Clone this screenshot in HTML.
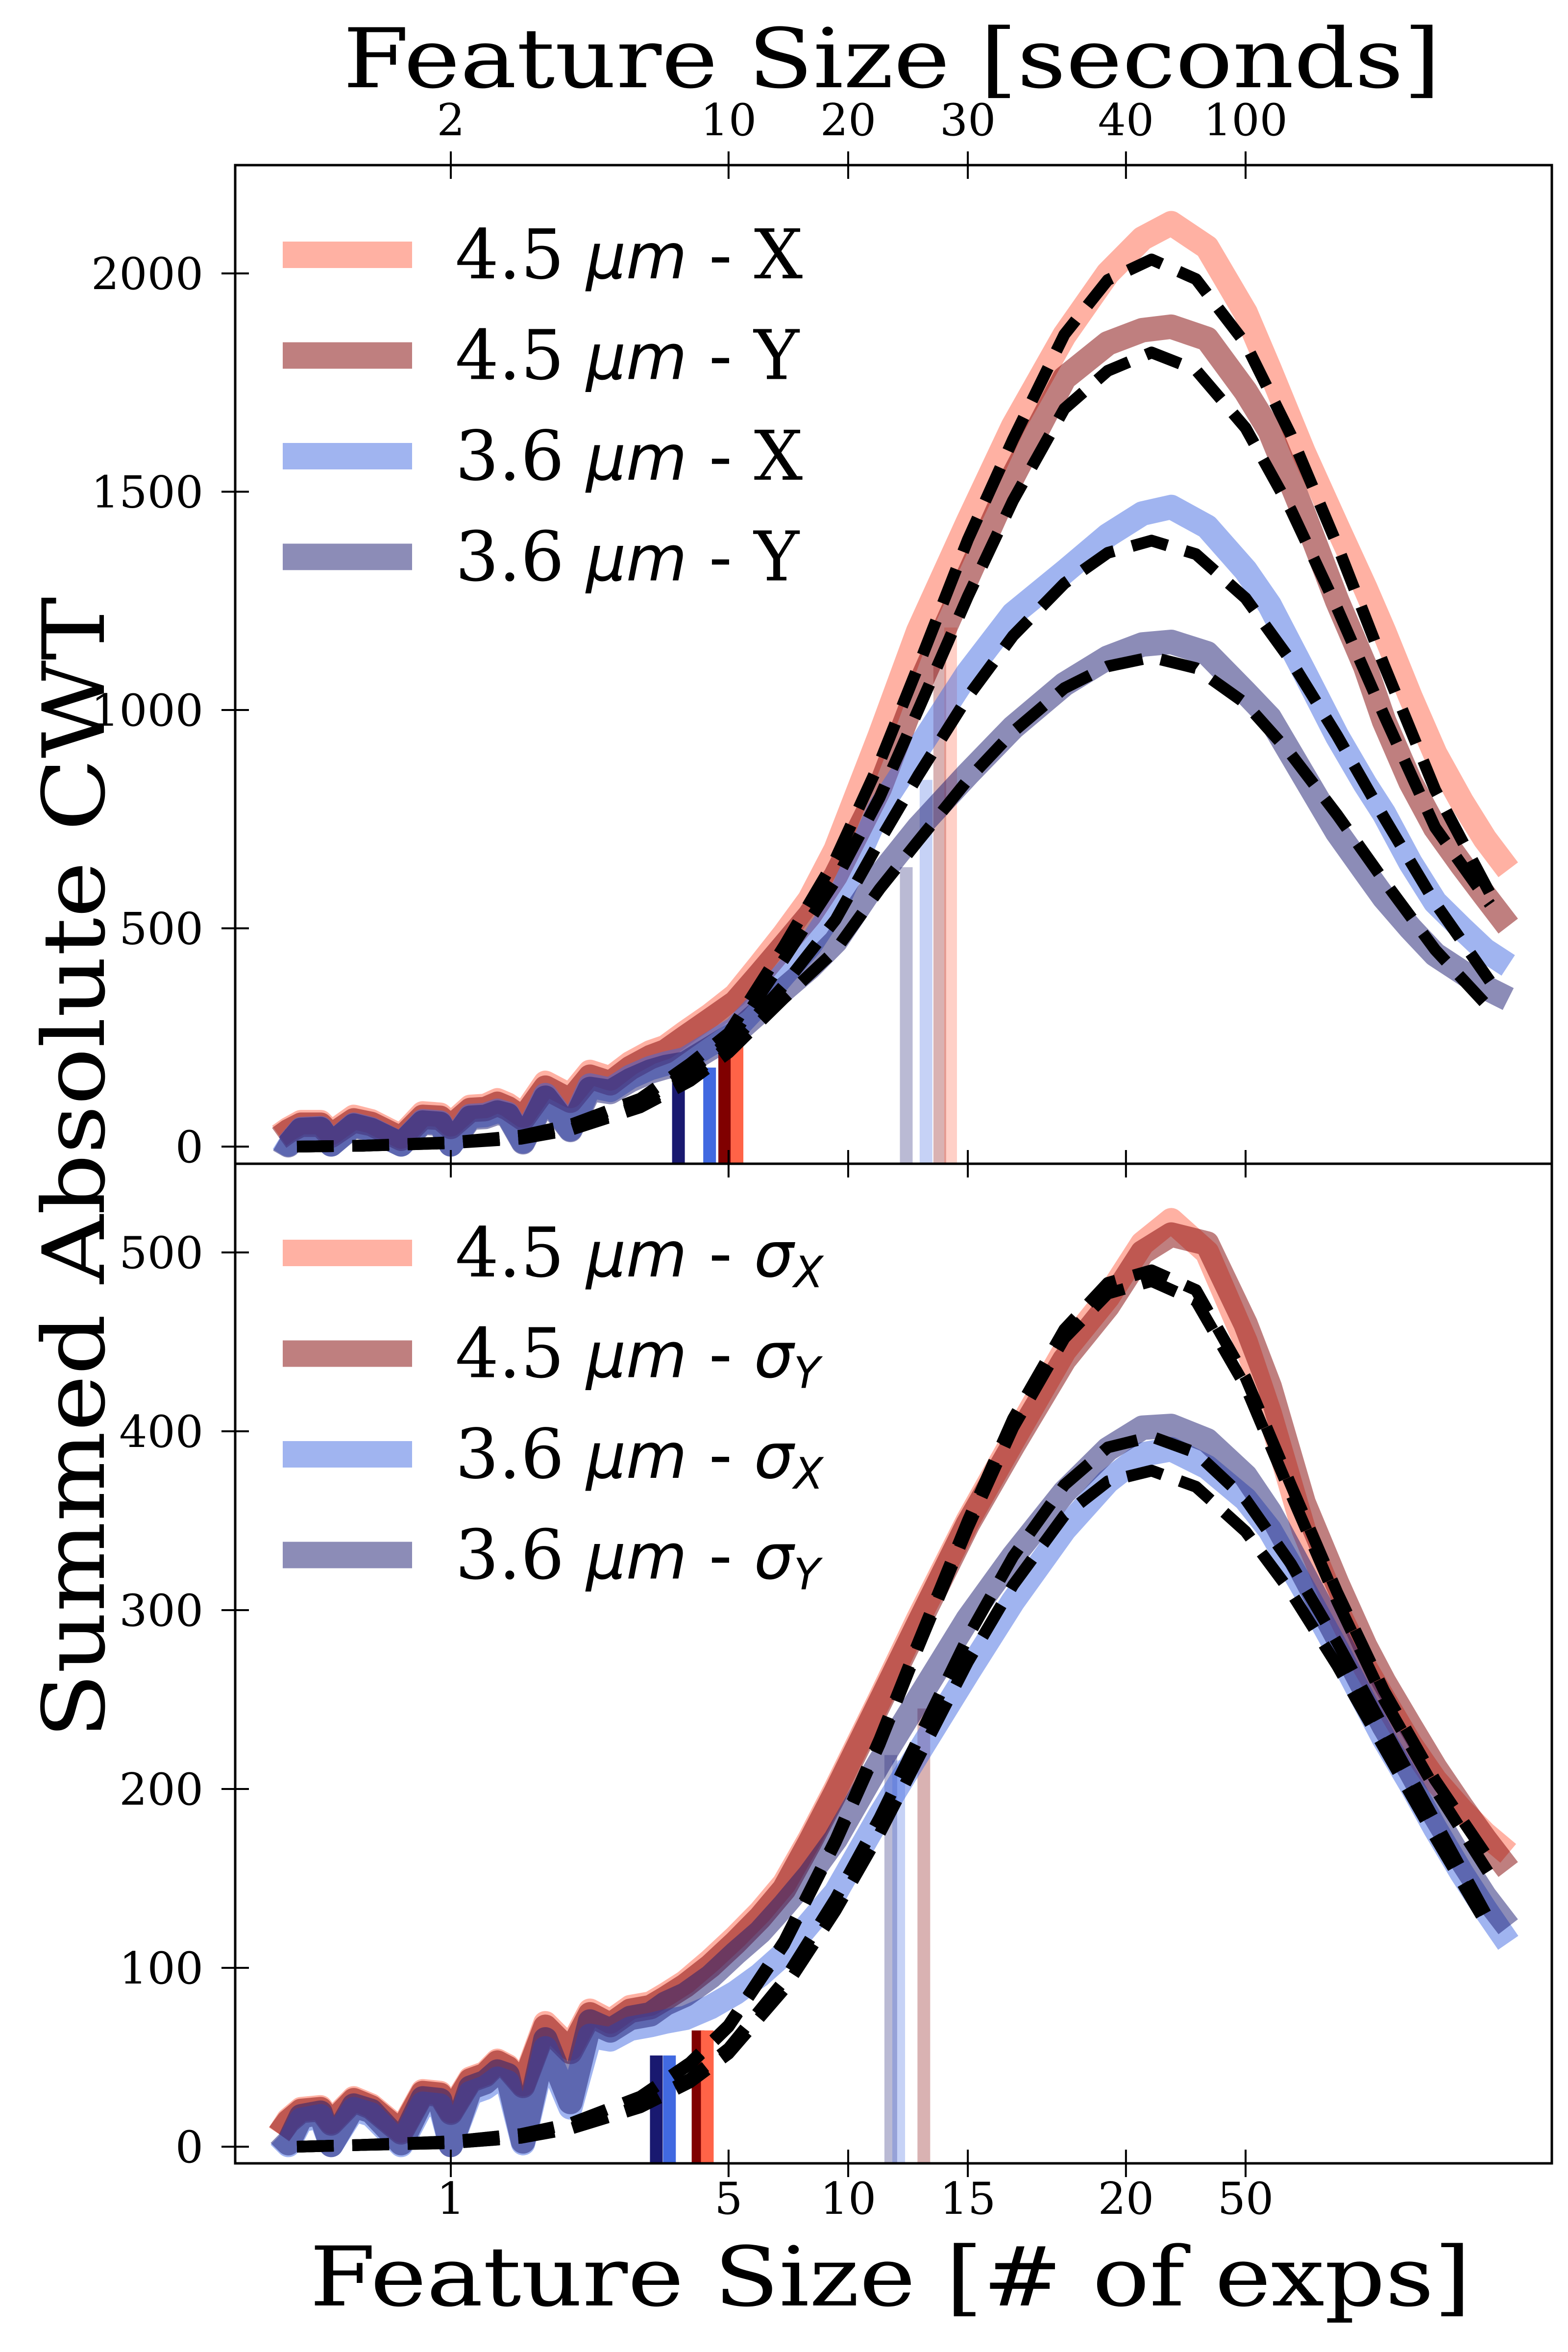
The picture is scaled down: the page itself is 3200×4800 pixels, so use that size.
<!DOCTYPE html>
<html><head><meta charset="utf-8"><style>
html,body{margin:0;padding:0;background:#fff;}
svg{display:block;}
text{font-family:"DejaVu Serif","Liberation Serif",serif;fill:#000;}
.it{font-family:"DejaVu Sans","Liberation Sans",sans-serif;font-style:italic;}
</style></head><body>
<svg id="chart" width="3200" height="4800" viewBox="0 0 3200 4800" xmlns="http://www.w3.org/2000/svg">
<rect width="3200" height="4800" fill="#fff"/>
<g id="top-marks"></g>
<g id="bot-marks"></g>
<g id="axes"></g>
<text x="1820" y="178" font-size="168" text-anchor="middle" textLength="2240" lengthAdjust="spacingAndGlyphs">Feature Size [seconds]</text>
<text x="1817" y="4705" font-size="168" text-anchor="middle" textLength="2370" lengthAdjust="spacingAndGlyphs">Feature Size [# of exps]</text>
<text transform="translate(212,2383) rotate(-90)" font-size="175" text-anchor="middle" textLength="2330" lengthAdjust="spacingAndGlyphs">Summed Absolute CWT</text>
<g id="legend-top"></g>
<g id="legend-bot"></g>
</svg>
<script>
// ---------- data ----------
const X = [0.37,0.39,0.42,0.47,0.5,0.57,0.63,0.75,0.85,0.94,1.0,1.12,1.22,1.31,1.39,1.52,1.73,2.0,2.24,2.52,2.83,3.18,3.47,3.89,4.5,5.2,6.0,6.9,8.0,9.3,12,15,20,26,35,45,55,65,80,100,115,140,170,200,223,260,300,350,400,458];
const top45X = [25,40,56,56,31,68,58,23,76,73,51,91,93,106,96,71,146,116,171,156,191,216,228,261,301,346,416,486,566,680,940,1180,1430,1650,1858,2000,2080,2115,2060,1910,1780,1590,1420,1280,1180,1030,900,790,705,634];
const top45Y = [20,35,50,50,25,60,52,18,68,66,45,84,86,98,88,64,135,105,160,145,180,205,218,250,290,330,395,460,530,620,820,1050,1305,1535,1760,1840,1870,1878,1850,1730,1640,1450,1250,1100,975,835,730,645,575,505];
const top36X = [18,5,40,42,5,50,40,5,58,55,5,70,72,82,75,12,118,40,140,130,160,180,190,200,235,270,330,395,460,550,775,910,1085,1220,1316,1400,1450,1465,1420,1320,1240,1090,940,830,763,650,560,500,450,415];
const top36Y = [15,3,38,40,5,48,38,5,55,52,5,66,68,78,72,10,112,38,132,125,152,172,182,190,225,260,310,360,410,470,620,730,853,960,1059,1120,1150,1156,1130,1040,982,850,720,630,570,500,440,400,365,338];
const bot45X = [7,15,21,22,14,27,23,9,31,30,20,38,41,48,45,35,69,55,76,70,78,80,85,92,104,117,131,147,172,200,250,295,350,395,445,475,505,518,500,450,410,345,300,268,250,225,205,188,175,164];
const bot45Y = [7,14,20,21,13,26,22,8,30,29,19,37,40,47,44,34,67,53,74,68,76,78,83,90,101,114,128,144,170,198,248,292,348,392,440,470,500,510,505,460,425,360,315,280,260,235,212,190,172,155];
const bot36X = [6,1,15,17,1,21,18,1,24,23,1,30,33,38,36,2,55,22,62,60,66,68,70,72,78,86,96,108,125,142,185,220,265,305,345,372,387,390,380,362,345,312,278,248,228,203,178,153,133,114];
const bot36Y = [7,2,17,19,1,23,20,2,27,26,1,33,36,42,40,3,60,25,70,65,72,74,80,85,95,108,120,135,152,172,215,250,295,330,366,390,402,403,395,375,355,320,285,255,235,210,185,160,140,123];
// fits
const XF = [0.41,0.6,1,1.5,2,3,4,5,6.9,9.3,12,15,20,26,35,45,58,75,100,130,170,223,300,412];
const fitTop45X = [0,2,10,25,50,110,190,260,460,660,880,1100,1390,1620,1860,1985,2032,1987,1839,1630,1378,1103,817,580];
const fitTop45Y = [0,2,9,22,45,100,175,240,430,610,800,1000,1260,1480,1690,1777,1819,1779,1646,1459,1233,988,731,555];
const fitTop36X = [0,2,8,20,40,95,160,230,370,520,700,850,1030,1170,1290,1360,1388,1357,1256,1113,941,754,558,379];
const fitTop36Y = [0,2,8,18,38,90,150,215,340,450,590,700,840,950,1050,1100,1121,1096,1015,899,760,609,451,316];
const fitBot45X = [0,1,3,7,13,28,47,68,115,172,228,282,350,407,457,483,490,479,430,370,310,255,205,160];
const fitBot45Y = [0,1,3,7,13,28,46,67,113,170,225,279,346,402,452,477,484,473,425,365,305,250,200,152];
const fitBot36X = [0,1,2,5,10,23,38,55,93,139,184,228,285,330,370,391,397,388,362,326,282,234,182,126];
const fitBot36Y = [0,1,2,5,10,22,36,52,88,132,175,217,271,314,353,372,378,369,344,310,269,223,173,121];
// threshold markers
const topMarkX = [3.74,4.48,4.89,5.25];
const topMarkV = [151,181,246,241];
const topMarkTX = [14.0,15.7,17.0,18.1];
const topMarkTV = [640,840,1111,1189];
const botMarkX = [3.29,3.55,4.19,4.42];
const botMarkV = [51,51,65,65];
const botMarkTX = [12.8,13.4,15.5];
const botMarkTV = [219,216,245];
// ticks
const xTickVals = [1,5,10,20,50,100];
const xTickLabelsBottom = ["1","5","10","15","20","50"];
const xTickLabelsTop = ["2","10","20","30","40","100"];
const yTicksTop = [0,500,1000,1500,2000];
const yTicksBot = [0,100,200,300,400,500];

// ---------- scales ----------
const L=480,R=3167,T=337,M=2375,B=4415;
const xs = v => 920 + 811*Math.log10(v);
const ysTop = v => 2340 - 0.891*v;
const ysBot = v => 4381 - 3.65*v;
const NS="http://www.w3.org/2000/svg";
function mk(tag,attrs,parent){const e=document.createElementNS(NS,tag);for(const k in attrs)e.setAttribute(k,attrs[k]);parent.appendChild(e);return e;}
const COL={t:"255,99,71",m:"128,0,0",r:"65,105,225",n:"25,25,112"};

function drawPanel(g, ys, base, series, fits, marks, tmarks, tcols){
  tmarks.x.forEach((xv,i)=>{
    const r=mk('rect',{x:xs(xv)-13,y:ys(tmarks.v[i]),width:26,height:base-ys(tmarks.v[i]),fill:'rgba('+tcols[i]+',0.3)'},g);
    
    
  });
  series.forEach(s=>{
    const p=mk('polyline',{points:X.map((xv,i)=>xs(xv).toFixed(1)+','+ys(s.d[i]).toFixed(1)).join(' '),fill:'none',stroke:'rgba('+s.c+',0.5)','stroke-width':50,'stroke-linejoin':'round','stroke-linecap':'butt'},g);
    
    
  });
  const mcols=[COL.n,COL.r,COL.m,COL.t];
  marks.x.forEach((xv,i)=>{
    const r=mk('rect',{x:xs(xv)-13,y:ys(marks.v[i]),width:26,height:base-ys(marks.v[i]),fill:'rgb('+mcols[i]+')'},g);
    
    
  });
  fits.forEach(f=>{
    const p=mk('polyline',{points:XF.map((xv,i)=>xs(xv).toFixed(1)+','+ys(f[i]).toFixed(1)).join(' '),fill:'none',stroke:'#000','stroke-width':24,'stroke-dasharray':'75 38','stroke-linejoin':'round'},g);
    
    
  });
}
drawPanel(document.getElementById('top-marks'), ysTop, M,
  [{d:top45X,c:COL.t,n:'line-4.5um-x'},{d:top45Y,c:COL.m,n:'line-4.5um-y'},{d:top36X,c:COL.r,n:'line-3.6um-x'},{d:top36Y,c:COL.n,n:'line-3.6um-y'}],
  [fitTop45X,fitTop45Y,fitTop36X,fitTop36Y],
  {x:topMarkX,v:topMarkV},{x:topMarkTX,v:topMarkTV},[COL.n,COL.r,COL.m,COL.t]);
drawPanel(document.getElementById('bot-marks'), ysBot, B,
  [{d:bot45X,c:COL.t,n:'line-4.5um-sigx'},{d:bot45Y,c:COL.m,n:'line-4.5um-sigy'},{d:bot36X,c:COL.r,n:'line-3.6um-sigx'},{d:bot36Y,c:COL.n,n:'line-3.6um-sigy'}],
  [fitBot45X,fitBot45Y,fitBot36X,fitBot36Y],
  {x:botMarkX,v:botMarkV},{x:botMarkTX,v:botMarkTV},[COL.n,COL.r,COL.m]);

// ---------- axes ----------
const ax=document.getElementById('axes');
[[T,M],[M,B]].forEach(([a,b])=>{
  const r=mk('rect',{x:L,y:a,width:R-L,height:b-a,fill:'none',stroke:'#000','stroke-width':5},ax);
  
  
});
yTicksTop.forEach(v=>{
  const y=ysTop(v);
  const l=mk('line',{x1:L-28,x2:L+28,y1:y,y2:y,stroke:'#000','stroke-width':4},ax);
  
  
  const t=mk('text',{x:415,y:y+32,'font-size':90,'text-anchor':'end'},ax);
  t.textContent=v;
  
  
});
yTicksBot.forEach(v=>{
  const y=ysBot(v);
  const l=mk('line',{x1:L-28,x2:L+28,y1:y,y2:y,stroke:'#000','stroke-width':4},ax);
  
  
  const t=mk('text',{x:415,y:y+32,'font-size':90,'text-anchor':'end'},ax);
  t.textContent=v;
  
  
});
xTickVals.forEach((v,i)=>{
  const x=xs(v);
  [T,M,B].forEach(y=>{
    const l=mk('line',{x1:x,x2:x,y1:y-28,y2:y+28,stroke:'#000','stroke-width':4},ax);
    
    
  });
  const t=mk('text',{x:x,y:4518,'font-size':90,'text-anchor':'middle'},ax);
  t.textContent=xTickLabelsBottom[i];
  
  
  const t2=mk('text',{x:x,y:276,'font-size':90,'text-anchor':'middle'},ax);
  t2.textContent=xTickLabelsTop[i];
  
  
});

// ---------- legends ----------
function legend(id, y0, labels, sub){
  const g=document.getElementById(id);
  const cols=[COL.t,COL.m,COL.r,COL.n];
  labels.forEach((lab,i)=>{
    const y=y0+205.5*i;
    const r=mk('rect',{x:577,y:y-27,width:264,height:54,fill:'rgba('+cols[i]+',0.5)'},g);
    
    
    const t=mk('text',{x:929,y:y+48,'font-size':140},g);
    
    
    const s1=mk('tspan',{},t); s1.textContent=lab+' ';
    const s2=mk('tspan',{'class':'it','font-size':128},t); s2.textContent='μm';
    const s3=mk('tspan',{},t); s3.textContent=' - ';
    if(sub){
      const s4=mk('tspan',{'class':'it','font-size':128},t); s4.textContent='σ';
      const s5=mk('tspan',{'class':'it','font-size':88,dy:22},t); s5.textContent=sub[i];
    } else {
      const s4=mk('tspan',{},t); s4.textContent=['X','Y','X','Y'][i];
    }
  });
}
legend('legend-top',520,['4.5','4.5','3.6','3.6'],null);
legend('legend-bot',2557,['4.5','4.5','3.6','3.6'],['X','Y','X','Y']);
</script>
</body></html>
